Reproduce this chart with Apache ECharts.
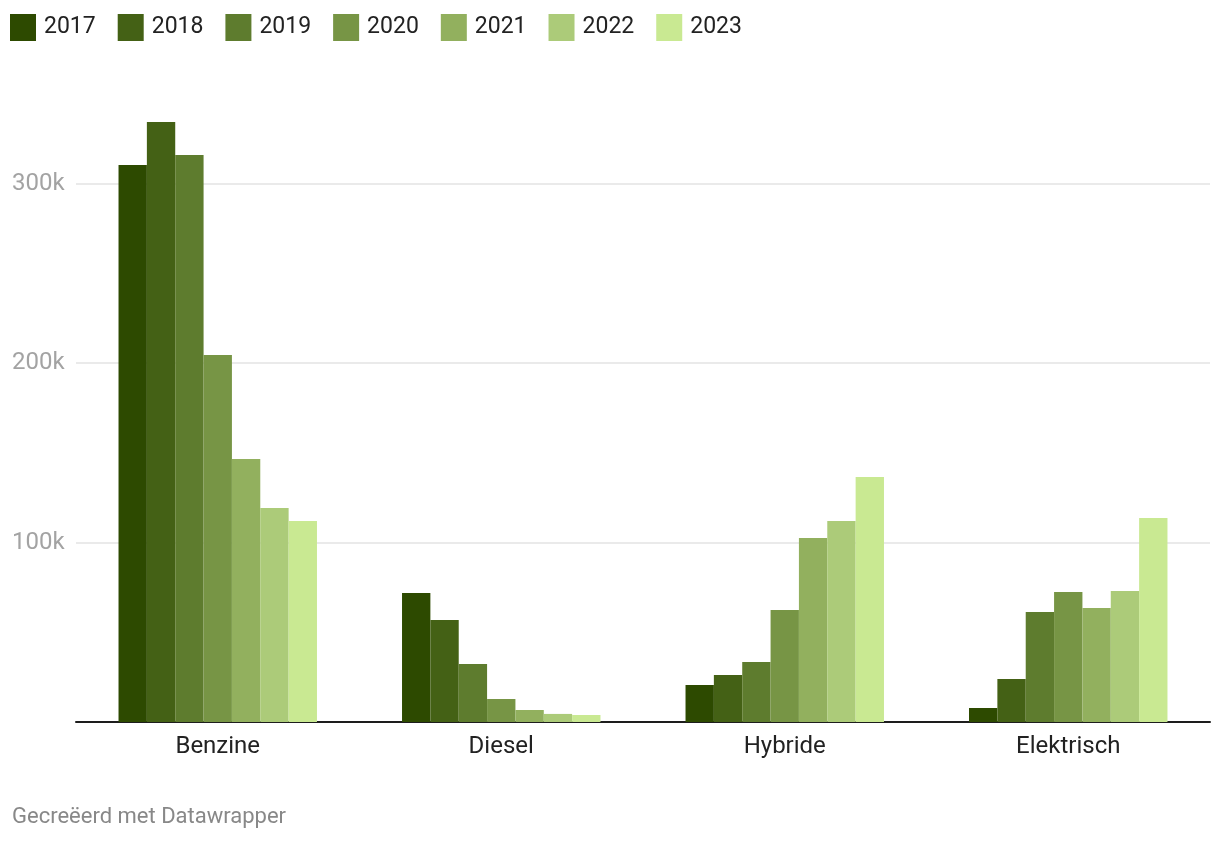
<!DOCTYPE html>
<html>
<head>
<meta charset="utf-8">
<script src="https://cdn.jsdelivr.net/npm/echarts@6/dist/echarts.min.js"></script>
<style>
html,body{margin:0;padding:0;background:#fff;}
#chart{width:1220px;height:844px;}
</style>
</head>
<body>
<div id="chart"></div>
<script>
const categories = ['Benzine', 'Diesel', 'Hybride', 'Elektrisch'];
const years = ['2017', '2018', '2019', '2020', '2021', '2022', '2023'];
const v2017 = [310300, 71900, 20600, 7800];
const v2018 = [334200, 56800, 26200, 24000];
const v2019 = [315900, 32300, 33400, 61300];
const v2020 = [204500, 12800, 62400, 72400];
const v2021 = [146500, 6700, 102500, 63500];
const v2022 = [119200, 4500, 112000, 73000];
const v2023 = [112000, 3900, 136500, 113600];
const yearValues = [v2017, v2018, v2019, v2020, v2021, v2022, v2023];
const colors = ['#2d4a00', '#446115', '#5e7c2e', '#779545', '#92b05e', '#accb79', '#c9e992'];
const footerText = 'Gecreëerd met Datawrapper';

const font = 'Roboto, "Noto Sans", sans-serif';
const chart = echarts.init(document.getElementById('chart'), null, {renderer: 'canvas'});
chart.setOption({
  animation: false,
  color: colors,
  textStyle: {fontFamily: font},
  legend: {
    left: 10, top: 14, padding: 0,
    itemWidth: 26, itemHeight: 27, itemGap: 22,
    icon: 'rect',
    textStyle: {fontSize: 23, color: '#222', fontFamily: font, padding: [2, 0, 0, 3]},
    data: years
  },
  graphic: [{
    type: 'text', left: 12, top: 806,
    style: {text: footerText, fontSize: 22, fill: '#888', fontFamily: font}
  }],
  grid: {left: 76, right: 10, top: 4, bottom: 122, containLabel: false},
  xAxis: {
    type: 'category',
    data: categories,
    axisLine: {show: true, lineStyle: {color: '#1d1d1d', width: 2}},
    axisTick: {show: false},
    axisLabel: {fontSize: 24, color: '#222', margin: 13, fontFamily: font}
  },
  yAxis: {
    type: 'value',
    min: 0, max: 400000, interval: 100000,
    axisLine: {show: false},
    axisTick: {show: false},
    splitLine: {show: true, showMinLine: false, showMaxLine: false, lineStyle: {color: '#e3e3e3', width: 1.5}},
    axisLabel: {
      showMaxLabel: false, showMinLabel: false,
      fontSize: 24, color: '#a3a3a3', fontFamily: font,
      align: 'left', margin: 64,
      formatter: v => v === 0 ? '' : (v / 1000) + 'k'
    }
  },
  series: years.map((y, i) => ({
    name: y,
    type: 'bar',
    data: yearValues[i],
    barGap: '0%',
    barCategoryGap: '30%',
    itemStyle: {color: colors[i]}
  }))
});
</script>
</body>
</html>
